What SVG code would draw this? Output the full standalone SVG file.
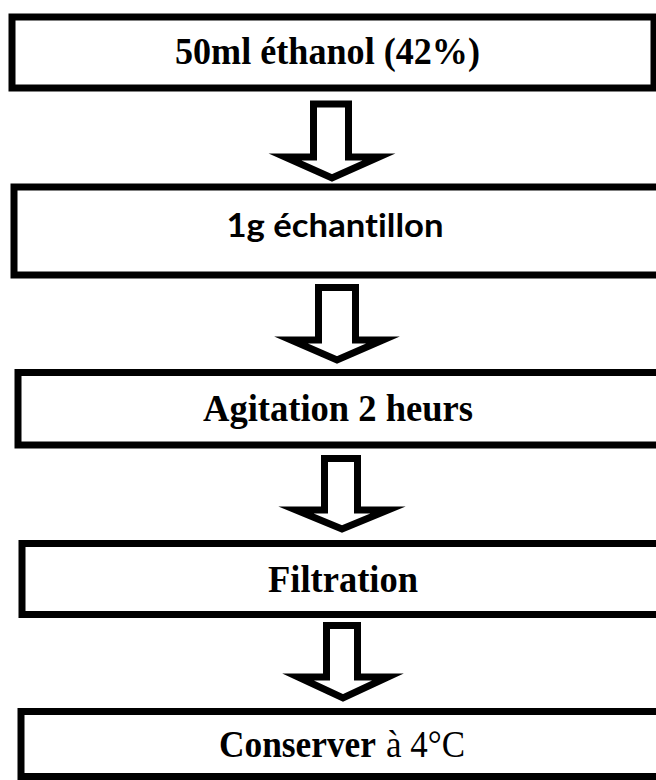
<svg xmlns="http://www.w3.org/2000/svg" width="656" height="780" viewBox="0 0 656 780">
<style>
.box{fill:#fff;stroke:#000;stroke-width:7}
.arr{fill:#fff;stroke:#000;stroke-width:7;stroke-miterlimit:10}
.tb{font-family:"Liberation Serif","Times New Roman",serif;font-weight:bold;font-size:38px;fill:#000;text-anchor:middle}
.ts{text-anchor:start}
.tc{font-family:Lato,"Open Sans",sans-serif;font-weight:bold;font-size:33px;fill:#000;text-anchor:middle;font-variant-ligatures:none}
.tr{font-weight:normal}
</style>
<rect width="656" height="780" fill="#fff"/>
<g id="connectors">
<polygon class="arr" points="313.5,104 348.5,104 348.5,157 379,157 332,178 285,157 313.5,157"/>
<polygon class="arr" points="318.5,287.5 355.5,287.5 355.5,340 383,340 337,360 291,340 318.5,340"/>
<polygon class="arr" points="324.5,458.5 357.5,458.5 357.5,510 388,510 342,529 296,510 324.5,510"/>
<polygon class="arr" points="326.5,625.5 357.5,625.5 357.5,677 388,677 343,698 298,677 326.5,677"/>
</g>
<g id="n1">
<rect class="box" x="12" y="17" width="642" height="71"/>
<text class="tb" x="327.5" y="64" textLength="305" lengthAdjust="spacingAndGlyphs">50ml éthanol (42%)</text>
</g>
<g id="n2">
<rect class="box" x="14" y="187" width="648" height="88"/>
<text class="tc" x="335" y="237" textLength="217" lengthAdjust="spacingAndGlyphs">1g échantillon</text>
</g>
<g id="n3">
<rect class="box" x="18" y="372.5" width="644" height="72.5"/>
<text class="tb" x="338" y="421" textLength="270" lengthAdjust="spacingAndGlyphs">Agitation 2 heurs</text>
</g>
<g id="n4">
<rect class="box" x="22" y="543.5" width="640" height="71"/>
<text class="tb" x="343" y="592" textLength="150" lengthAdjust="spacingAndGlyphs">Filtration</text>
</g>
<g id="n5">
<rect class="box" x="21" y="711.5" width="641" height="65"/>
<text class="tb ts" x="219" y="757" textLength="157" lengthAdjust="spacingAndGlyphs">Conserver</text>
<text class="tb ts tr" x="386" y="757" textLength="79" lengthAdjust="spacingAndGlyphs">à 4°C</text>
</g>
</svg>
